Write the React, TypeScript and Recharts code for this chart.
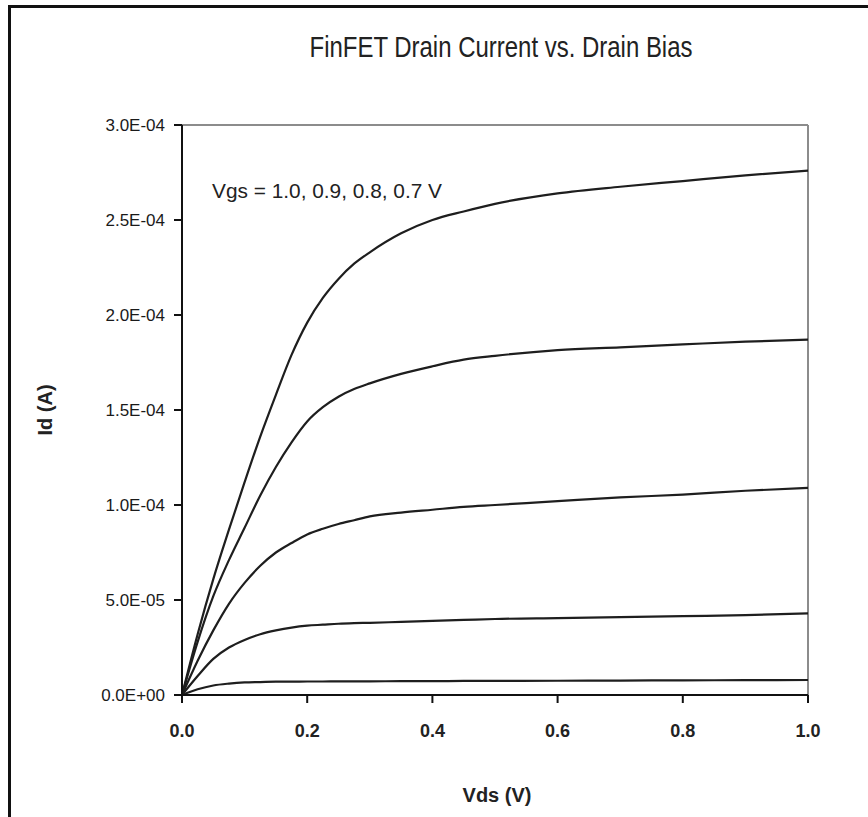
import { LineChart, Line, XAxis, YAxis, ReferenceLine } from "recharts";

// Drain bias sweep (V)
const vds = [0, 0.025, 0.05, 0.075, 0.1, 0.125, 0.15, 0.175, 0.2, 0.225, 0.25, 0.275, 0.3, 0.35, 0.4, 0.45, 0.5, 0.6, 0.7, 0.8, 0.9, 1.0];

// Drain current per gate bias, in microamps
const idVgs10 = [0, 32, 61, 87, 112, 136, 158, 179, 196, 209, 219, 227, 233, 243, 250, 254.5, 258.5, 264, 267.5, 270.5, 273.5, 276];
const idVgs09 = [0, 28, 52, 71, 88, 105, 120, 133, 144, 151.5, 157, 161, 164, 169, 173, 176.5, 178.5, 181.5, 183, 184.5, 186, 187];
const idVgs08 = [0, 18, 34, 48, 59, 68, 75, 80, 84.5, 87.5, 90, 92, 94, 96, 97.5, 99, 100, 102, 104, 105.5, 107.5, 109];
const idVgs07 = [0, 10, 19, 25, 29, 32, 34, 35.5, 36.5, 37, 37.5, 37.8, 38, 38.5, 39, 39.5, 40, 40.5, 41, 41.5, 42, 43];
const idVgs06 = [0, 3, 5, 6, 6.6, 6.8, 7, 7, 7.1, 7.1, 7.2, 7.2, 7.2, 7.3, 7.3, 7.4, 7.4, 7.5, 7.6, 7.7, 7.8, 7.9];

const xTicks = [0, 0.2, 0.4, 0.6, 0.8, 1.0];
const yTicks = [0, 5e-5, 1e-4, 1.5e-4, 2e-4, 2.5e-4, 3e-4];

const seriesKeys = ["v10", "v09", "v08", "v07", "v06"];

const data = vds.map((v, i) => ({
  vds: v,
  v10: idVgs10[i] * 1e-6,
  v09: idVgs09[i] * 1e-6,
  v08: idVgs08[i] * 1e-6,
  v07: idVgs07[i] * 1e-6,
  v06: idVgs06[i] * 1e-6,
}));

// Excel-style scientific label, e.g. 2.5E-04
const sci = (v: number) => {
  const [m, e] = v.toExponential(1).split("e");
  const n = parseInt(e, 10);
  return `${m}E${n < 0 ? "-" : "+"}${String(Math.abs(n)).padStart(2, "0")}`;
};

const font = "'Liberation Sans', Arial, sans-serif";
const ink = "#1e1e1e";

const App = () => {
  return (
    <div
      style={{
        position: "absolute",
        left: 0,
        top: 0,
        width: 868,
        height: 817,
        background: "#fff",
        overflow: "hidden",
        fontFamily: font,
      }}
    >
      <div style={{ position: "absolute", left: 0, top: 0 }}>
        <LineChart
          width={868}
          height={817}
          data={data}
          margin={{ top: 125, right: 60, bottom: 121, left: 181 }}
        >
          <XAxis
            dataKey="vds"
            type="number"
            domain={[0, 1]}
            ticks={xTicks}
            tickFormatter={(v: number) => v.toFixed(1)}
            height={1}
            tickSize={8}
            tickMargin={21}
            axisLine={{ stroke: "#111", strokeWidth: 2 }}
            tickLine={{ stroke: "#111", strokeWidth: 2 }}
            tick={{ fill: "#222", fontSize: 18, fontWeight: 700, fontFamily: font }}
          />
          <YAxis
            type="number"
            domain={[0, 3e-4]}
            ticks={yTicks}
            tickFormatter={sci}
            width={1}
            tickSize={8}
            tickMargin={9}
            axisLine={{ stroke: "#111", strokeWidth: 2 }}
            tickLine={{ stroke: "#111", strokeWidth: 2 }}
            tick={{ fill: "#1a1a1a", fontSize: 17, fontFamily: font }}
          />
          <ReferenceLine y={3e-4} stroke="#8c8c8c" strokeWidth={2} />
          <ReferenceLine x={1} stroke="#8c8c8c" strokeWidth={2} />
          {seriesKeys.map((k) => (
            <Line
              key={k}
              dataKey={k}
              type="monotone"
              stroke={ink}
              strokeWidth={2.2}
              dot={false}
              isAnimationActive={false}
            />
          ))}
        </LineChart>
      </div>

      <svg width={868} height={817} style={{ position: "absolute", left: 0, top: 0, pointerEvents: "none" }}>
        {/* outer chart frame, runs off the right and bottom edges */}
        <rect x={8} y={5} width={860} height={3} fill="#111" />
        <rect x={8} y={5} width={3} height={812} fill="#111" />
        <text x={501} y={57} textAnchor="middle" fontSize={30} fill="#222" fontFamily={font} textLength={383} lengthAdjust="spacingAndGlyphs">
          FinFET Drain Current vs. Drain Bias
        </text>
        <text x={212} y={198} fontSize={21} fill="#222" fontFamily={font} textLength={230} lengthAdjust="spacingAndGlyphs">
          Vgs = 1.0, 0.9, 0.8, 0.7 V
        </text>
        <text x={497} y={802} textAnchor="middle" fontSize={20} fontWeight={700} fill="#222" fontFamily={font}>
          Vds (V)
        </text>
        <text
          x={0}
          y={0}
          transform="translate(52 410) rotate(-90)"
          textAnchor="middle"
          fontSize={20}
          fontWeight={700}
          fill="#222"
          fontFamily={font}
        >
          Id (A)
        </text>
      </svg>
    </div>
  );
};

export default App;
